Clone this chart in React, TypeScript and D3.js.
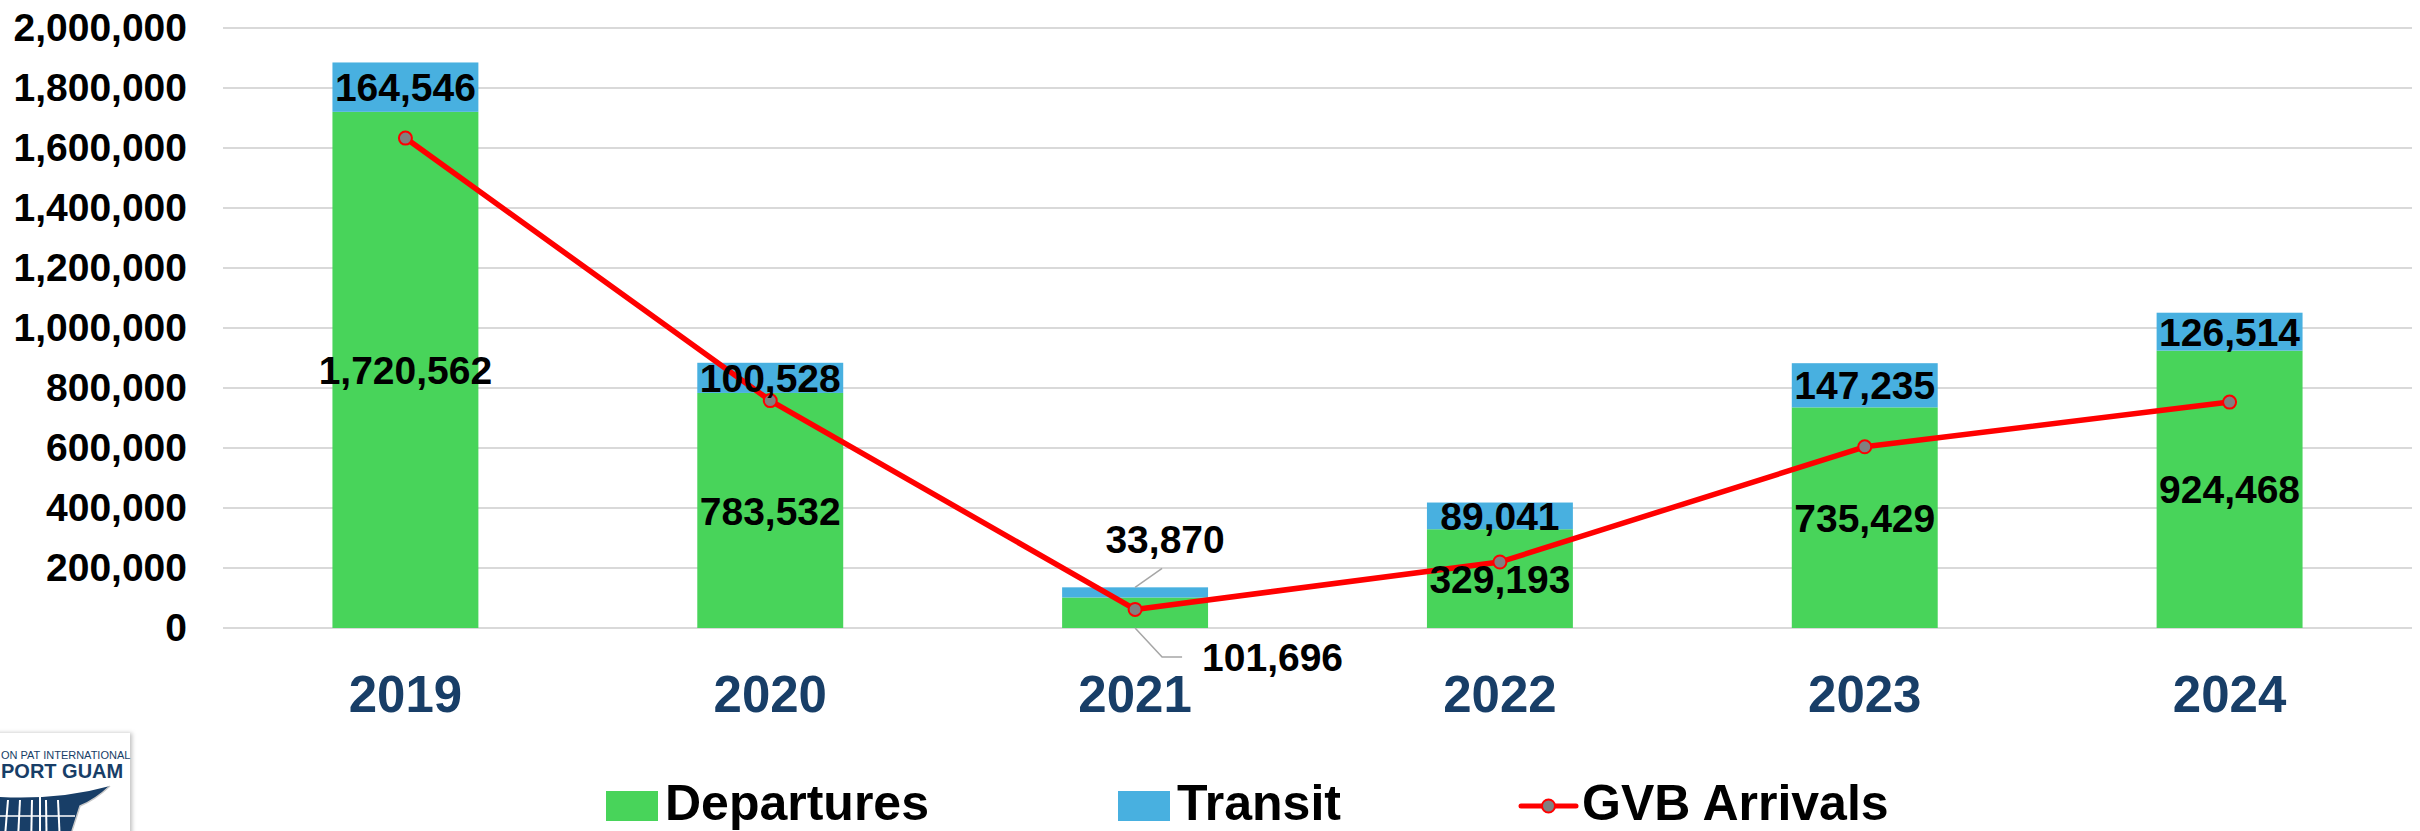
import React, { useEffect, useRef } from "react"
import * as d3 from "d3"

// values
const years = ["2019", "2020", "2021", "2022", "2023", "2024"]
const departures = [1720562, 783532, 101696, 329193, 735429, 924468]
const transit = [164546, 100528, 33870, 89041, 147235, 126514]
const gvbArrivals = [1633000, 758000, 62000, 220000, 604000, 753000]
const yTicks = [0, 200000, 400000, 600000, 800000, 1000000, 1200000, 1400000, 1600000, 1800000, 2000000]
const seriesNames = ["Departures", "Transit", "GVB Arrivals"]

const W = 2420, H = 831
const margin = { top: 28, right: 8, bottom: 203, left: 223 }
const FONT = "'Liberation Sans', Arial, Helvetica, sans-serif"
const GREEN = "#48D45A"
const BLUE = "#48B0E0"
const RED = "#FF0000"
const NAVY = "#183E67"

export default function App() {
  const ref = useRef<SVGSVGElement>(null)

  useEffect(() => {
    const svg = d3.select(ref.current)
    svg.selectAll("*").remove()

    const x0 = margin.left, x1 = W - margin.right
    const y0 = H - margin.bottom, y1 = margin.top

    const x = d3.scaleBand().domain(years).range([x0, x1]).paddingInner(0.6).paddingOuter(0.3)
    const y = d3.scaleLinear().domain([0, 2000000]).range([y0, y1])
    const bw = x.bandwidth()
    const cx = (yr: string) => (x(yr) as number) + bw / 2

    // gridlines
    svg.append("g")
      .selectAll("line")
      .data(yTicks)
      .enter().append("line")
      .attr("x1", x0).attr("x2", x1)
      .attr("y1", d => y(d)).attr("y2", d => y(d))
      .attr("stroke", "#d9d9d9").attr("stroke-width", 2)

    // y axis
    svg.append("g")
      .attr("transform", "translate(" + x0 + ",0)")
      .call(d3.axisLeft(y).tickValues(yTicks).tickSize(0).tickPadding(36).tickFormat(d3.format(",")))
      .attr("font-family", FONT).attr("font-size", 39).attr("font-weight", "bold")
      .call(g => g.select(".domain").remove())
      .selectAll("text").attr("fill", "#000")

    // x axis
    svg.append("g")
      .attr("transform", "translate(0," + y0 + ")")
      .call(d3.axisBottom(x).tickSize(0).tickPadding(48))
      .attr("font-family", FONT).attr("font-size", 51).attr("font-weight", "bold")
      .call(g => g.select(".domain").remove())
      .selectAll("text").attr("fill", NAVY)

    // stacked bars
    const rows = years.map((yr, i) => ({ year: yr, dep: departures[i], tr: transit[i] }))
    const stack = d3.stack<any>().keys(["dep", "tr"])(rows)
    const colors = [GREEN, BLUE]

    stack.forEach((layer, li) => {
      svg.append("g").attr("fill", colors[li])
        .selectAll("rect")
        .data(layer)
        .enter().append("rect")
        .attr("x", d => x(d.data.year) as number)
        .attr("y", d => y(d[1]))
        .attr("width", bw)
        .attr("height", d => y(d[0]) - y(d[1]))
    })

    // GVB arrivals line
    const line = d3.line<number>()
      .x((d, i) => cx(years[i]))
      .y(d => y(d))
    svg.append("path")
      .datum(gvbArrivals)
      .attr("d", line)
      .attr("fill", "none")
      .attr("stroke", RED)
      .attr("stroke-width", 5.5)
      .attr("stroke-linejoin", "round")
    svg.append("g")
      .selectAll("circle")
      .data(gvbArrivals)
      .enter().append("circle")
      .attr("cx", (d, i) => cx(years[i]))
      .attr("cy", d => y(d))
      .attr("r", 6.5)
      .attr("fill", "#808080")
      .attr("stroke", RED)
      .attr("stroke-width", 2)

    // data labels
    const labels = svg.append("g")
      .attr("font-family", FONT).attr("font-size", 39).attr("font-weight", "bold").attr("fill", "#000")
    const fmt = d3.format(",")
    stack.forEach((layer, li) => {
      layer.forEach(d => {
        const c = cx(d.data.year)
        const top = y(d[1]), bot = y(d[0])
        const small = y(0) - y(d.data.dep + d.data.tr) < 60
        const v = d[1] - d[0]
        if (!small) {
          labels.append("text")
            .attr("x", c).attr("y", (top + bot) / 2).attr("dy", "0.36em")
            .attr("text-anchor", "middle")
            .text(fmt(v))
        } else if (li === 1) {
          // label above bar with leader line
          svg.append("polyline")
            .attr("points", [[c, top], [c + 27, top - 19]].join(" "))
            .attr("fill", "none").attr("stroke", "#a6a6a6").attr("stroke-width", 1.5)
          labels.append("text")
            .attr("x", c + 30).attr("y", top - 48).attr("dy", "0.36em")
            .attr("text-anchor", "middle")
            .text(fmt(v))
        } else {
          // label below bar with leader line
          svg.append("polyline")
            .attr("points", [[c, bot], [c + 27, bot + 29], [c + 47, bot + 29]].join(" "))
            .attr("fill", "none").attr("stroke", "#a6a6a6").attr("stroke-width", 1.5)
          labels.append("text")
            .attr("x", c + 67).attr("y", bot + 29).attr("dy", "0.36em")
            .attr("text-anchor", "start")
            .text(fmt(v))
        }
      })
    })

    // legend
    const legend = svg.append("g")
      .attr("font-family", FONT).attr("font-size", 50).attr("font-weight", "bold").attr("fill", "#000")
    const legendX = [606, 1118, 1521]
    const ly = 806
    legendX.forEach((lx, i) => {
      if (i < 2) {
        legend.append("rect")
          .attr("x", lx).attr("y", ly - 15).attr("width", 52).attr("height", 30)
          .attr("fill", colors[i])
      } else {
        legend.append("line")
          .attr("x1", lx).attr("x2", lx + 55).attr("y1", ly).attr("y2", ly)
          .attr("stroke", RED).attr("stroke-width", 5).attr("stroke-linecap", "round")
        legend.append("circle")
          .attr("cx", lx + 27.5).attr("cy", ly).attr("r", 6.5)
          .attr("fill", "#808080").attr("stroke", RED).attr("stroke-width", 2)
      }
      legend.append("text")
        .attr("x", lx + (i < 2 ? 59 : 61)).attr("y", 820)
        .text(seriesNames[i])
    })

    // airport logo in the bottom-left corner
    const defs = svg.append("defs")
    const f = defs.append("filter").attr("id", "shadow").attr("x", "-20%").attr("y", "-20%").attr("width", "140%").attr("height", "140%")
    f.append("feDropShadow").attr("dx", 2).attr("dy", 0).attr("stdDeviation", 2).attr("flood-color", "#000").attr("flood-opacity", 0.25)
    const logo = svg.append("g")
    logo.append("rect").attr("x", -10).attr("y", 733).attr("width", 140).attr("height", 110)
      .attr("fill", "#fff").attr("filter", "url(#shadow)")
    logo.append("text").attr("x", 1).attr("y", 759)
      .attr("font-family", FONT).attr("font-size", 11).attr("fill", NAVY)
      .text("ON PAT INTERNATIONAL")
    logo.append("text").attr("x", 1).attr("y", 778)
      .attr("font-family", FONT).attr("font-size", 20).attr("font-weight", "bold").attr("fill", NAVY)
      .text("PORT GUAM")
    logo.append("path")
      .attr("d", "M0,797 Q60,800 110,786 Q95,800 80,806 L72,831 L0,831 Z")
      .attr("fill", NAVY)
    logo.append("path")
      .attr("d", "M72,831 L80,806 Q95,800 110,786")
      .attr("fill", "none").attr("stroke", "#c8c8c8").attr("stroke-width", 1.5)
    const stripes = [8, 20, 32, 46, 58]
    logo.append("g").selectAll("line").data(stripes).enter().append("line")
      .attr("x1", d => d).attr("x2", d => d + (d - 40) * 0.08)
      .attr("y1", 800).attr("y2", 831)
      .attr("stroke", "#fff").attr("stroke-width", 2)
    logo.append("line").attr("x1", 0).attr("x2", 75).attr("y1", 816).attr("y2", 816)
      .attr("stroke", "#fff").attr("stroke-width", 1.5)
    logo.append("line").attr("x1", 40).attr("x2", 40).attr("y1", 782).attr("y2", 831)
      .attr("stroke", "#fff").attr("stroke-width", 2)
  }, [])

  return (
    <svg
      ref={ref}
      width={W}
      height={H}
      style={{ position: "absolute", left: 0, top: 0, display: "block", background: "#fff" }}
    />
  )
}
